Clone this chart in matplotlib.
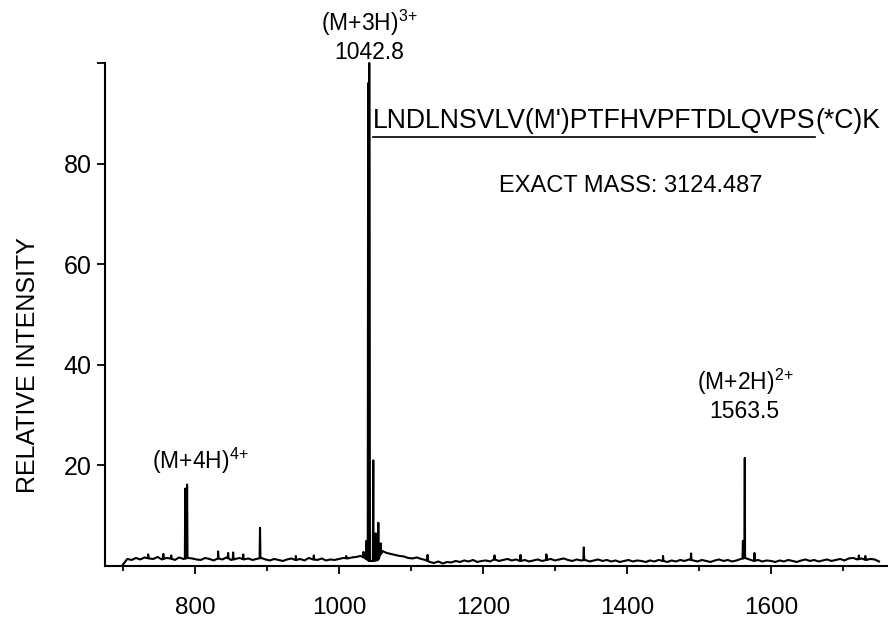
import numpy as np
import matplotlib
matplotlib.use("Agg")
import matplotlib.pyplot as plt

plt.rcParams['font.family'] = ['Liberation Sans', 'DejaVu Sans']
plt.rcParams['mathtext.fontset'] = 'custom'
plt.rcParams['mathtext.rm'] = 'Liberation Sans'

# ---- data ----
baseline_start = 700
baseline_step = 6
baseline = [
    0.3, 1.4, 1.2, 1.6, 1.3, 1.7, 1.5, 1.4, 1.8, 1.3, 1.6, 1.5, 1.2, 1.7, 1.4, 1.6,
    1.5, 1.3, 1.2, 1.6, 1.4, 1.1, 1.5, 1.3, 1.7, 1.2, 1.4, 1.6, 1.3, 1.5, 1.2, 1.4,
    1.6, 1.3, 1.1, 1.4, 1.2, 1.0, 1.3, 1.5, 1.2, 1.4, 1.1, 1.6, 1.3, 1.2, 1.5, 1.1,
    1.3, 1.2, 1.4, 1.6, 1.5, 1.7, 1.8, 2.0, 1.6, 1.0, 1.0, 1.2, 3.0, 2.6, 2.4, 2.2,
    2.0, 1.9, 1.6, 1.5, 1.7, 1.4, 1.2, 0.8, 0.6, 0.9, 0.5, 0.8, 0.7, 1.0, 0.8, 1.1,
    0.9, 1.2, 0.8, 1.0, 1.1, 0.9, 1.3, 1.0, 1.2, 1.4, 1.1, 1.3, 1.0, 1.2, 0.9, 1.1,
    1.3, 1.0, 1.2, 1.4, 1.1, 1.3, 1.5, 1.2, 1.0, 1.3, 1.1, 1.2, 0.9, 1.1, 1.3, 1.0,
    1.2, 0.9, 1.1, 0.8, 1.0, 1.2, 0.9, 1.1, 1.0, 0.8, 1.1, 0.9, 1.2, 1.0, 0.8, 1.1,
    0.9, 1.2, 1.0, 1.3, 1.1, 0.9, 1.2, 1.0, 0.8, 1.1, 1.3, 1.0, 1.2, 0.9, 1.1, 1.4,
    1.6, 1.3, 1.0, 1.2, 0.9, 1.1, 1.0, 0.8, 1.1, 0.9, 1.2, 1.0, 0.8, 1.1, 1.3, 1.0,
    1.2, 0.9, 1.1, 1.3, 1.0, 1.2, 1.4, 1.1, 1.5, 1.6, 1.3, 1.5, 1.2, 1.4, 1.3, 0.9,
]
peak_mz = [735, 756, 767, 786.5, 789, 832, 846, 853, 867, 890.3, 940, 965, 1010,
           1034, 1038, 1040.5, 1042, 1047.6, 1051, 1054.6, 1058, 1123, 1216, 1252,
           1288, 1340, 1450, 1489, 1561, 1563.6, 1577, 1722, 1731]
peak_int = [2.3, 2.4, 2.1, 15.4, 16.2, 2.9, 2.6, 2.7, 2.3, 7.6, 2.0, 2.1, 2.0,
            2.8, 5.0, 96, 100, 21, 6.5, 8.6, 4.5, 2.2, 2.1, 2.2,
            2.3, 3.7, 2.0, 2.5, 5.0, 21.5, 2.6, 2.1, 2.0]

y_ticks = [20, 40, 60, 80, 100]
y_ticklabels = ['20', '40', '60', '80', '']
x_major = [800, 1000, 1200, 1400, 1600]
x_minor = [700, 900, 1100, 1300, 1500, 1700]

# ---- build trace ----
bmz = baseline_start + baseline_step * np.arange(len(baseline))
bval = np.array(baseline)
xs = list(bmz)
ys = list(bval)
for m, h in zip(peak_mz, peak_int):
    b = np.interp(m, bmz, bval)
    xs += [m - 0.6, m, m + 0.6]
    ys += [b, h, b]
order = np.argsort(xs, kind='stable')
xs = np.array(xs)[order]
ys = np.array(ys)[order]

fig = plt.figure(figsize=(8.88, 6.22), dpi=100)
ax = fig.add_axes([105/888, 56/622, 783/888, 503/622])
ax.plot(xs, ys, color='black', lw=1.5, clip_on=False)

ax.set_xlim(675, 1762.5)
ax.set_ylim(0, 100)
for s in ['top', 'right']:
    ax.spines[s].set_visible(False)
ax.spines['left'].set_linewidth(1.5)
ax.spines['bottom'].set_linewidth(1.5)

ax.set_yticks(y_ticks)
ax.set_yticklabels(y_ticklabels)
ax.set_xticks(x_major)
ax.set_xticks(x_minor, minor=True)
ax.tick_params(axis='y', direction='out', length=5.5, width=1.3, labelsize=18, pad=4)
ax.tick_params(axis='x', which='major', direction='out', length=6, width=1.3,
               labelsize=17.5, pad=16)
ax.tick_params(axis='x', which='minor', direction='out', length=3.5, width=1.3)
ax.set_ylabel('RELATIVE INTENSITY', fontsize=18)
ax.yaxis.set_label_coords(-0.083, 0.40)

fs = 16.5
ax.text(1042, 107.9, r'(M+3H)$^{\mathregular{3{+}}}$', ha='center', va='center',
        fontsize=fs, clip_on=False)
ax.text(1042, 102.0, '1042.8', ha='center', va='center', fontsize=fs, clip_on=False)
ax.text(1563.6, 36.6, r'(M+2H)$^{\mathregular{2{+}}}$', ha='center', va='center', fontsize=fs)
ax.text(1563.6, 30.7, '1563.5', ha='center', va='center', fontsize=fs)
ax.text(807, 20.8, r'(M+4H)$^{\mathregular{4{+}}}$', ha='center', va='center', fontsize=fs)
ax.text(1405.5, 75.5, 'EXACT MASS: 3124.487', ha='center', va='center', fontsize=17)

seq_fs = 19.2
seq_y = 88.4
t1 = ax.text(1047, seq_y, "LNDLNSVLV(M')PTFHVPFTDLQVPS", ha='left', va='center',
             fontsize=seq_fs)
fig.canvas.draw()
bb = t1.get_window_extent(renderer=fig.canvas.get_renderer())
inv = ax.transData.inverted()
(x0, y0), (x1, y1) = inv.transform([[bb.x0, bb.y0], [bb.x1, bb.y1]])
ax.text(x1, seq_y, "(*C)K", ha='left', va='center', fontsize=seq_fs, clip_on=False)
ax.plot([x0, x1], [y0 - 0.6, y0 - 0.6], color='black', lw=1.2)

fig.savefig('out.png', dpi=100)
